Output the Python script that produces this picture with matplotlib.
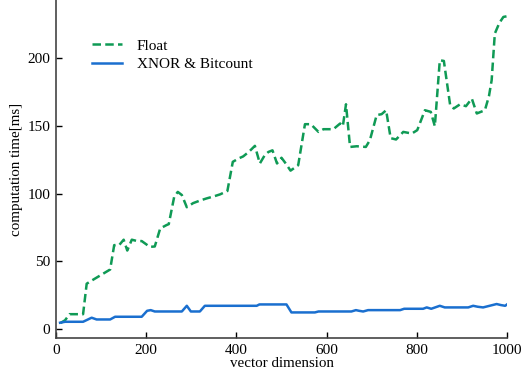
import matplotlib
matplotlib.use("Agg")
import matplotlib.pyplot as plt

# Float series (vertices)
float_dim = [10, 20, 30, 45, 60, 68, 80, 90, 105, 120, 129, 140, 150, 158, 168, 180, 190, 208, 219, 231, 245, 250, 262, 270, 279, 290, 304, 320, 334, 350, 364, 380, 392, 405, 415, 428, 441, 452, 463, 471, 480, 490, 500, 510, 520, 537, 552, 565, 582, 593, 615, 630, 636, 643, 652, 667, 687, 696, 711, 722, 732, 742, 754, 770, 789, 801, 818, 831, 840, 851, 860, 874, 882, 896, 909, 922, 933, 951, 960, 966, 973, 983, 992, 1000]
float_ms = [4.5, 6.5, 11, 11, 11, 33.5, 36, 38, 41, 44, 62, 62, 66, 58, 66, 65, 65, 60.7, 61, 74.3, 76.8, 77.5, 97.6, 101.3, 99, 90, 93, 95, 96.5, 98, 99.5, 102, 123.5, 126, 127.5, 131, 135.3, 122.3, 128.5, 130.8, 132, 122.3, 126.5, 122, 117, 121, 151.3, 151.3, 145.6, 147.6, 147.6, 151.8, 149.8, 166, 134.5, 135, 134.5, 139.5, 158, 158.7, 161.6, 141, 140, 145.6, 144.4, 146.9, 161.6, 160.4, 149.8, 198.5, 198, 165.3, 162.9, 166, 164.6, 170.2, 159.2, 161.6, 172, 183.8, 218.2, 226, 230.5, 231]

# XNOR & Bitcount series
xnor_dim = [9, 20, 60, 79, 90, 120, 131, 190, 202, 210, 219, 279, 290, 299, 319, 330, 445, 451, 511, 522, 574, 582, 655, 665, 672, 681, 692, 763, 772, 814, 822, 832, 851, 862, 914, 925, 935, 947, 977, 987, 996, 1000]
xnor_ms = [4.7, 5.4, 5.4, 8.4, 7.1, 7.1, 9.1, 9.1, 13.5, 14, 13, 13, 17.2, 13, 13, 17.2, 17.2, 18.2, 18.2, 12.3, 12.3, 13, 13, 14, 13.5, 13, 14, 14, 15, 15, 16, 15, 17.2, 16, 16, 17.2, 16.5, 16, 18.5, 17.7, 17.2, 18.2]

x_ticks = [0, 200, 400, 600, 800, 1000]
y_ticks = [0, 50, 100, 150, 200]

plt.rcParams['font.family'] = ['Liberation Serif', 'DejaVu Serif']
fs = 11.0
lfs = 10.8
plt.rcParams['font.size'] = fs

fig = plt.figure(figsize=(5.25, 3.76), dpi=100)
ax = fig.add_axes([0.1067, 0.101, 0.859, 0.899])

ax.plot(float_dim, float_ms, linestyle=(0, (3.4, 1.7)), color='#0f9a55', linewidth=1.8, label='Float')
ax.plot(xnor_dim, xnor_ms, linestyle='-', color='#1a6fcf', linewidth=1.8, label='XNOR & Bitcount')

ax.set_xlim(0, 1000)
ax.set_ylim(-6.6, 243)
ax.set_xticks(x_ticks)
ax.set_yticks(y_ticks)
ax.tick_params(direction='in', length=4, width=1, colors='black', labelsize=fs, pad=4)
for s in ['top', 'right']:
    ax.spines[s].set_visible(False)
for s in ['left', 'bottom']:
    ax.spines[s].set_color('#444444')
    ax.spines[s].set_linewidth(1.2)

ax.set_xlabel('vector dimension', fontsize=lfs, labelpad=0)
ax.set_ylabel('computation time[ms]', fontsize=lfs, labelpad=3)

ax.legend(loc='upper left', bbox_to_anchor=(0.05, 0.925), frameon=False, fontsize=fs,
          handlelength=1.95, handletextpad=0.95, labelspacing=0.32)

fig.savefig('out.png', dpi=100)
